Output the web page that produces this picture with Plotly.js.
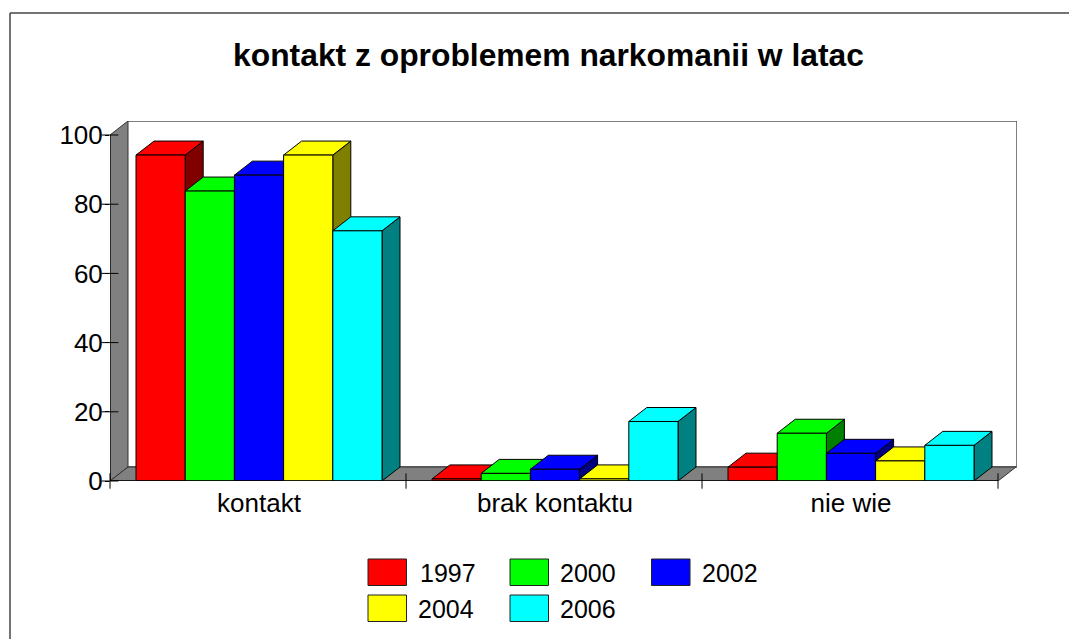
<!DOCTYPE html>
<html>
<head>
<meta charset="utf-8">
<script src="https://cdn.plot.ly/plotly-3.0.1.min.js"></script>
<style>html,body{margin:0;padding:0;background:#fff}#chart{width:1069px;height:639px}</style>
</head>
<body>
<div id="chart"></div>
<script>
const titleText = 'kontakt z oproblemem narkomanii w latac';
const categories = ['kontakt', 'brak kontaktu', 'nie wie'];
const years = ['1997', '2000', '2002', '2004', '2006'];
const v1997 = [94.2, 0.6, 4.0];
const v2000 = [83.8, 2.2, 13.8];
const v2002 = [88.4, 3.4, 8.0];
const v2004 = [94.2, 0.6, 5.8];
const v2006 = [72.3, 17.2, 10.3];
const seriesValues = [v1997, v2000, v2002, v2004, v2006];
const frontColors = ['#ff0000', '#00ff00', '#0000ff', '#ffff00', '#00ffff'];
const sideColors = ['#800000', '#008000', '#000080', '#808000', '#008080'];
const yTicks = [0, 20, 40, 60, 80, 100];

// geometry
const W = 1069, H = 639;
const L = 110, R = 1017, T = 121, B = 481;
const unitX = 296, unitY = 3.46;
const dx = 18 / unitX, dy = 14 / unitY;
const xRange = [0, (R - L) / unitX], yRange = [0, (B - T) / unitY];
const gap = 26 / unitX, barW = 49.2 / unitX;
const nCat = categories.length;
const edgeCol = '#000';

const traces = [];
const axisName = k => k === 0 ? ['x', 'y'] : ['x' + (k + 1), 'y' + (k + 1)];
function poly(xs, ys, fill, k, lineCol, lineW) {
  const [xa, ya] = axisName(k);
  traces.push({
    type: 'scatter', mode: 'lines', x: xs, y: ys, xaxis: xa, yaxis: ya,
    fill: fill ? 'toself' : 'none', fillcolor: fill || undefined,
    line: {color: lineCol || edgeCol, width: lineW || 1},
    cliponaxis: false, showlegend: false, hoverinfo: 'skip'
  });
}

// back wall outline, left wall, floor
poly([dx, xRange[1], xRange[1], dx], [yRange[1], yRange[1], dy, dy], null, 0, '#555', 1.5);
poly([0, dx, dx, 0, 0], [0, dy, 100 + dy, 100, 0], '#808080', 0, '#333');
poly([0, dx, nCat + dx, nCat, 0], [0, dy, dy, 0, 0], '#808080', 0, '#333');

seriesValues.forEach((vals, i) => {
  // side + top of series i sit on the layer under its front faces
  vals.forEach((v, c) => {
    const x0 = c + gap + i * barW, x1 = x0 + barW;
    poly([x1, x1 + dx, x1 + dx, x1, x1], [0, dy, v + dy, v, 0], sideColors[i], i);
    poly([x0, x0 + dx, x1 + dx, x1, x0], [v, v + dy, v + dy, v, v], frontColors[i], i);
  });
  // fronts
  const [xa, ya] = axisName(i + 1);
  traces.push({
    type: 'bar', name: years[i], xaxis: xa, yaxis: ya,
    x: vals.map((_, c) => c + gap + (i + 0.5) * barW),
    y: vals, width: barW,
    marker: {color: frontColors[i], line: {color: edgeCol, width: 1}},
    cliponaxis: false, showlegend: false, hoverinfo: 'skip'
  });
});
// front axis lines and the ticks that cross them, on top
const topLayer = seriesValues.length;
const catEdges = categories.map((_, c) => c).concat([nCat]);
poly([0, nCat], [0, 0], null, topLayer, '#000', 1.5);
poly([0, 0], [0, 100], null, topLayer, '#000', 1);
const [xt, yt] = axisName(topLayer);
traces.push({type: 'scatter', mode: 'markers', xaxis: xt, yaxis: yt, cliponaxis: false, showlegend: false, hoverinfo: 'skip',
  x: yTicks.map(() => 0), y: yTicks,
  marker: {symbol: 'line-ew', size: 12, line: {color: '#000', width: 1}}});
traces.push({type: 'scatter', mode: 'markers', xaxis: xt, yaxis: yt, cliponaxis: false, showlegend: false, hoverinfo: 'skip',
  x: catEdges, y: catEdges.map(() => 0),
  marker: {symbol: 'line-ns', size: 11, line: {color: '#000', width: 1}}});

const layout = {
  width: W, height: H, autosize: false,
  paper_bgcolor: '#fff', plot_bgcolor: 'rgba(0,0,0,0)',
  margin: {l: L, r: W - R, t: T, b: H - B, pad: 0},
  font: {family: 'Liberation Sans, Arial, sans-serif', color: '#000', size: 24},
  title: {text: '<b>' + titleText + '</b>', font: {size: 31.8, family: 'Liberation Sans, Arial, sans-serif'},
          x: 548.5 / W, xanchor: 'center', y: 1 - 55 / H, yanchor: 'middle'},
  showlegend: false, hovermode: false, barmode: 'overlay',
  xaxis: {
    type: 'linear', range: xRange, showgrid: false, zeroline: false, showline: false,
    tickmode: 'array', tickvals: categories.map((_, c) => c + 0.5 + 1 / unitX), ticktext: categories,
    ticks: '', tickfont: {size: 26}, ticklabelstandoff: 4
  },
  yaxis: {
    type: 'linear', range: yRange, showgrid: false, zeroline: false, showline: false,
    tickmode: 'array', tickvals: yTicks, ticks: 'outside', ticklen: 4, tickwidth: 1, tickcolor: '#000',
    tickfont: {size: 26}, ticklabelstandoff: -3
  },
  shapes: [
    {type: 'line', xref: 'paper', yref: 'paper', x0: (10 - L) / (R - L), x1: (W - L) / (R - L), y0: (B - 13) / (B - T), y1: (B - 13) / (B - T), line: {color: '#444', width: 1.5}},
    {type: 'line', xref: 'paper', yref: 'paper', x0: (10 - L) / (R - L), x1: (10 - L) / (R - L), y0: (B - 13) / (B - T), y1: (B - H) / (B - T), line: {color: '#444', width: 1.5}}
  ],
  annotations: []
};
for (let k = 1; k <= topLayer; k++) {
  layout['xaxis' + (k + 1)] = {overlaying: 'x', range: xRange, visible: false, anchor: 'y' + (k + 1), type: 'linear'};
  layout['yaxis' + (k + 1)] = {overlaying: 'y', range: yRange, visible: false, anchor: 'x' + (k + 1), type: 'linear'};
}
// legend
const swatchX = [368, 510, 651.5, 368, 510];
const swatchY = [559, 559, 559, 595, 595];
const labelX = [418, 558, 700, 416, 558];
years.forEach((yr, i) => {
  const px = x => (x - L) / (R - L), py = y => (B - y) / (B - T);
  layout.shapes.push({type: 'rect', xref: 'paper', yref: 'paper',
    x0: px(swatchX[i]), x1: px(swatchX[i] + 38.5), y0: py(swatchY[i]), y1: py(swatchY[i] + 26.5),
    fillcolor: frontColors[i], line: {color: '#222', width: 1}});
  layout.annotations.push({xref: 'paper', yref: 'paper', x: px(labelX[i]), y: py(swatchY[i] + 14),
    text: yr, showarrow: false, xanchor: 'left', yanchor: 'middle', font: {size: 25}});
});
Plotly.newPlot('chart', traces, layout, {displayModeBar: false, staticPlot: true});
</script>
</body>
</html>
